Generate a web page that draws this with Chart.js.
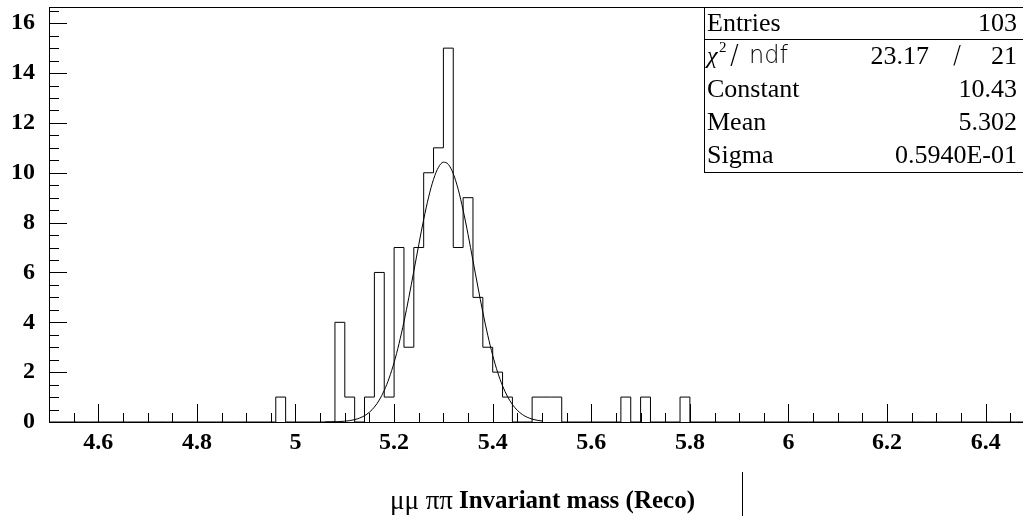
<!DOCTYPE html>
<html>
<head>
<meta charset="utf-8">
<script src="https://cdn.jsdelivr.net/npm/chart.js@4"></script>
<style>
  html, body { margin: 0; padding: 0; background: #fff; overflow: hidden; }
  #wrap { width: 1023px; height: 516px; overflow: hidden; }
  canvas { display: block; }
</style>
</head>
<body>
<div id="wrap"><canvas id="chart" width="1040" height="516"></canvas></div>
<script>
// histogram: 100 bins of 0.02 from 4.5 to 6.5, only filled bins listed
const xMin = 4.5;
const xMax = 6.5;
const binWidth = 0.02;
const binLeft = [4.96, 5.08, 5.10, 5.14, 5.16, 5.18, 5.20, 5.22, 5.24, 5.26, 5.28,
  5.30, 5.32, 5.34, 5.36, 5.38, 5.40, 5.42, 5.48, 5.50, 5.52, 5.66, 5.70, 5.78];
const binCount = [1, 4, 1, 1, 6, 1, 7, 3, 7, 10, 11,
  15, 7, 9, 5, 3, 2, 1, 1, 1, 1, 1, 1, 1];

// gaussian fit curve
const fitX = [5.06, 5.07, 5.08, 5.09, 5.10, 5.11, 5.12, 5.13, 5.14, 5.15, 5.16, 5.17,
  5.18, 5.19, 5.20, 5.21, 5.22, 5.23, 5.24, 5.25, 5.26, 5.27, 5.28, 5.29, 5.30,
  5.31, 5.32, 5.33, 5.34, 5.35, 5.36, 5.37, 5.38, 5.39, 5.40, 5.41, 5.42, 5.43,
  5.44, 5.45, 5.46, 5.47, 5.48, 5.49, 5.50];
const fitY = [0.003, 0.005, 0.01, 0.018, 0.032, 0.056, 0.095, 0.158, 0.253, 0.395, 0.599, 0.883,
  1.266, 1.763, 2.388, 3.143, 4.022, 5.003, 6.049, 7.11, 8.123, 9.021, 9.738, 10.219, 10.424,
  10.336, 9.962, 9.333, 8.501, 7.524, 6.475, 5.416, 4.404, 3.48, 2.674, 1.997, 1.45, 1.023,
  0.702, 0.468, 0.303, 0.191, 0.117, 0.07, 0.04];

const xTicks = [4.6, 4.8, 5, 5.2, 5.4, 5.6, 5.8, 6, 6.2, 6.4];
const yTicks = [0, 2, 4, 6, 8, 10, 12, 14, 16];
const yMax = 16.65;

const statRows = [
  ["Constant", "10.43"],
  ["Mean", "5.302"],
  ["Sigma", "0.5940E-01"],
];
const entries = "103";
const chi2 = "23.17";
const ndf = "21";

// build step outline from the bins
const nBins = Math.round((xMax - xMin) / binWidth);
const counts = new Array(nBins).fill(0);
binLeft.forEach((x, i) => {
  counts[Math.round((x - xMin) / binWidth)] = binCount[i];
});
const histPoints = counts.map((c, i) => ({ x: xMin + i * binWidth, y: c }));
histPoints.push({ x: xMax, y: counts[nBins - 1] });

const fitPoints = fitX.map((x, i) => ({ x: x, y: fitY[i] }));

const serif = '"Liberation Serif", "Times New Roman", serif';

// frame, inward ticks, stats box and axis title
const decorations = {
  id: "decorations",
  afterDraw(chart) {
    const ctx = chart.ctx;
    const a = chart.chartArea;
    const xs = chart.scales.x;
    const ys = chart.scales.y;
    ctx.save();
    ctx.strokeStyle = "#000";
    ctx.lineWidth = 1;
    ctx.strokeRect(a.left + 0.5, a.top + 0.5, a.right - a.left, a.bottom - a.top);

    ctx.beginPath();
    for (let v = xMin; v <= xMax + 1e-9; v += 0.05) {
      const px = Math.round(xs.getPixelForValue(v)) + 0.5;
      const major = Math.abs(v / 0.2 - Math.round(v / 0.2)) < 1e-6;
      ctx.moveTo(px, a.bottom);
      ctx.lineTo(px, a.bottom - (major ? 18 : 9));
    }
    for (let v = 0; v <= yMax; v += 0.5) {
      const py = Math.round(ys.getPixelForValue(v)) + 0.5;
      const major = Math.abs(v / 2 - Math.round(v / 2)) < 1e-6;
      ctx.moveTo(a.left, py);
      ctx.lineTo(a.left + (major ? 18 : 10), py);
    }
    ctx.stroke();

    // stats box
    const bx = 704, by = a.top + 0.5, bw = 340, bh = 165;
    ctx.fillStyle = "#fff";
    ctx.fillRect(bx, by, bw, bh);
    ctx.strokeRect(bx + 0.5, by, bw, bh);
    ctx.beginPath();
    ctx.moveTo(bx, 39.5);
    ctx.lineTo(bx + bw, 39.5);
    ctx.stroke();

    ctx.fillStyle = "#000";
    ctx.textBaseline = "middle";
    ctx.font = "26px " + serif;
    const tx = 707, vx = 1017;
    ctx.textAlign = "left";
    ctx.fillText("Entries", tx, 24);
    ctx.textAlign = "right";
    ctx.fillText(entries, vx, 24);

    // chi2 row
    const rowY = 57;
    ctx.textAlign = "left";
    ctx.font = "italic 24px " + serif;
    ctx.fillText("\u03c7", tx, rowY);
    ctx.font = "15px " + serif;
    ctx.fillText("2", tx + 12, rowY - 9);
    ctx.font = '200 26px "DejaVu Sans", sans-serif';
    ctx.fillText("/", tx + 23, rowY);
    ctx.font = '200 24px "DejaVu Sans", sans-serif';
    ctx.fillText("ndf", tx + 42, rowY);
    ctx.textAlign = "center";
    ctx.fillText("/", 957, rowY);
    ctx.font = "26px " + serif;
    ctx.textAlign = "right";
    ctx.fillText(chi2, 929, rowY);
    ctx.fillText(ndf, vx, rowY);

    statRows.forEach((r, i) => {
      const yy = 90 + i * 33;
      ctx.textAlign = "left";
      ctx.fillText(r[0], tx, yy);
      ctx.textAlign = "right";
      ctx.fillText(r[1], vx, yy);
    });

    // x axis title: symbol part regular, rest bold
    const titleY = 502;
    const boldPart = "Invariant mass (Reco)";
    const symPart = "\u03bc\u03bc \u03c0\u03c0";
    ctx.textAlign = "left";
    ctx.font = "bold 25px " + serif;
    const wBold = ctx.measureText(boldPart).width;
    ctx.font = "27px " + serif;
    const wSym = ctx.measureText(symPart).width;
    const endX = 695;
    const gap = 6;
    ctx.fillText(symPart, endX - wBold - gap - wSym, titleY);
    ctx.font = "bold 25px " + serif;
    ctx.fillText(boldPart, endX - wBold, titleY);

    // stray pad edge below the axis
    ctx.beginPath();
    ctx.moveTo(742.5, 472);
    ctx.lineTo(742.5, 516);
    ctx.stroke();
    ctx.restore();
  },
};

new Chart(document.getElementById("chart"), {
  type: "line",
  data: {
    datasets: [
      {
        label: "histogram",
        data: histPoints,
        stepped: true,
        borderColor: "#000",
        borderWidth: 1,
        pointRadius: 0,
        fill: false,
      },
      {
        label: "gaus fit",
        data: fitPoints,
        borderColor: "#000",
        borderWidth: 1,
        pointRadius: 0,
        cubicInterpolationMode: "monotone",
        fill: false,
      },
    ],
  },
  options: {
    responsive: false,
    animation: false,
    events: [],
    layout: { padding: { top: 7, right: 5, left: 0, bottom: 0 } },
    plugins: { legend: { display: false }, tooltip: { enabled: false } },
    scales: {
      x: {
        type: "linear",
        min: xMin,
        max: xMax,
        grid: { display: false, drawTicks: false },
        border: { display: false },
        afterBuildTicks: (s) => { s.ticks = xTicks.map((v) => ({ value: v })); },
        afterFit: (s) => { s.height = 94; s.paddingLeft = 0; s.paddingRight = 0; },
        ticks: {
          maxRotation: 0,
          autoSkip: false,
          padding: 6,
          color: "#000",
          font: { family: serif, size: 24, weight: "bold" },
          callback: (v) => String(Number(v.toFixed(2))),
        },
      },
      y: {
        min: 0,
        max: yMax,
        grid: { display: false, drawTicks: false },
        border: { display: false },
        afterBuildTicks: (s) => { s.ticks = yTicks.map((v) => ({ value: v })); },
        afterFit: (s) => { s.width = 49; s.paddingTop = 0; s.paddingBottom = 0; },
        ticks: {
          padding: 14,
          color: "#000",
          font: { family: serif, size: 24, weight: "bold" },
        },
      },
    },
  },
  plugins: [decorations],
});
</script>
</body>
</html>
